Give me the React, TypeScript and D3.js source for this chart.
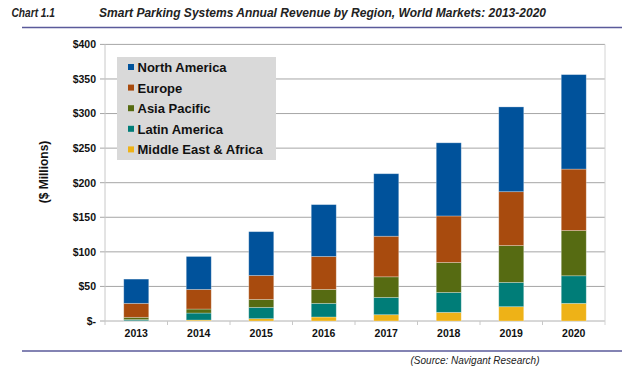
import React from "react";
import * as d3 from "d3";

const years = ["2013", "2014", "2015", "2016", "2017", "2018", "2019", "2020"];
const seriesNames = ["Middle East & Africa", "Latin America", "Asia Pacific", "Europe", "North America"];
const middleEastAfrica = [0.4, 1.4, 3.4, 5.8, 9.1, 12.5, 20.7, 25.5];
const latinAmerica = [1.6, 10.1, 16.3, 19.7, 25.0, 28.8, 35.1, 39.9];
const asiaPacific = [3.3, 5.8, 11.5, 20.2, 29.8, 43.3, 53.3, 65.4];
const europe = [20.2, 28.4, 34.6, 47.6, 58.7, 67.3, 77.9, 88.9];
const northAmerica = [35.1, 47.6, 63.4, 75.0, 90.4, 105.8, 122.6, 136.6];
const yTicks = [0, 50, 100, 150, 200, 250, 300, 350, 400];
const colors = ["#EEB217", "#007D78", "#566B12", "#A84B0E", "#00529B"];
const legendOrder = ["North America", "Europe", "Asia Pacific", "Latin America", "Middle East & Africa"];

export default function App() {
  const W = 633, H = 380;
  const left = 105, right = 605, top = 44.4, bottom = 321;
  const x = d3.scaleBand().domain(years).range([left, right]).paddingInner(0.6).paddingOuter(0.3);
  const xOuter = d3.scaleBand().domain(years).range([left, right]);
  const y = d3.scaleLinear().domain([0, 400]).range([bottom, top]);
  const values = [middleEastAfrica, latinAmerica, asiaPacific, europe, northAmerica];
  const rows = years.map((yr, i) => {
    const r: any = { year: yr };
    seriesNames.forEach((s, k) => (r[s] = values[k][i]));
    return r;
  });
  const stacked = d3.stack().keys(seriesNames)(rows);
  const font = "Arial, 'Liberation Sans', sans-serif";
  const fmt = (v: number) => (v === 0 ? "$-" : "$" + v);
  return (
    <svg width={W} height={H} style={{ position: "absolute", left: 0, top: 0, background: "#fff" }} fontFamily={font}>
      <text x={11.5} y={17} fontSize={12} fontWeight="bold" fontStyle="italic" fill="#222" textLength={43.5} lengthAdjust="spacingAndGlyphs">Chart 1.1</text>
      <text x={99} y={17} fontSize={12} fontWeight="bold" fontStyle="italic" fill="#222" textLength={447} lengthAdjust="spacingAndGlyphs">
        Smart Parking Systems Annual Revenue by Region, World Markets: 2013-2020
      </text>
      <line x1={22} x2={622} y1={27.5} y2={27.5} stroke="#5a5a9a" strokeWidth={1.5} />
      <line x1={22} x2={622} y1={351} y2={351} stroke="#5a5a9a" strokeWidth={1.5} />
      <text x={475} y={364} fontSize={10} fontStyle="italic" textAnchor="middle" fill="#222">(Source: Navigant Research)</text>

      {yTicks.map((t) => (
        <g key={t}>
          <line x1={t === 0 ? left : 100} x2={right} y1={y(t)} y2={y(t)} stroke={t === 0 ? "#b0b0b0" : "#a6a6a6"} strokeWidth={1} />
          {t === 0 && <line x1={100} x2={left} y1={y(t)} y2={y(t)} stroke="#a6a6a6" />}
          <text x={96} y={y(t) + 3.8} fontSize={10.5} fontWeight="bold" textAnchor="end" fill="#111">{fmt(t)}</text>
        </g>
      ))}
      <line x1={left} x2={left} y1={top} y2={bottom} stroke="#c8c8c8" />
      <line x1={right} x2={right} y1={top} y2={bottom + 4} stroke="#d4d4d4" />
      {years.map((yr) => (
        <line key={yr} x1={xOuter(yr)!} x2={xOuter(yr)!} y1={bottom} y2={bottom + 4} stroke="#c8c8c8" />
      ))}
      <text transform={`translate(48,172) rotate(-90)`} fontSize={12} fontWeight="bold" textAnchor="middle" fill="#111">($ Millions)</text>

      {stacked.map((s, k) => (
        <g key={s.key}>
          {s.map((d, i) => (
            <rect key={i} x={x(years[i])!} width={x.bandwidth()} y={y(d[1])} height={Math.max(0, y(d[0]) - y(d[1]))}
              fill={colors[k]} stroke="#ffffff" strokeOpacity={0.35} strokeWidth={0.8} />
          ))}
        </g>
      ))}
      {years.map((yr) => (
        <text key={yr} x={xOuter(yr)! + xOuter.bandwidth() / 2} y={337} fontSize={10.5} fontWeight="bold" textAnchor="middle" fill="#111">{yr}</text>
      ))}

      <rect x={117} y={57} width={159} height={103} fill="#d9d9d9" />
      {legendOrder.map((name, i) => {
        const k = seriesNames.indexOf(name);
        const cy = 67.5 + i * 20.6;
        return (
          <g key={name}>
            <rect x={128} y={cy - 3.5} width={6} height={6} fill={colors[k]} />
            <text x={137.5} y={cy + 4.5} fontSize={13} fontWeight="bold" fill="#111">{name}</text>
          </g>
        );
      })}
    </svg>
  );
}
